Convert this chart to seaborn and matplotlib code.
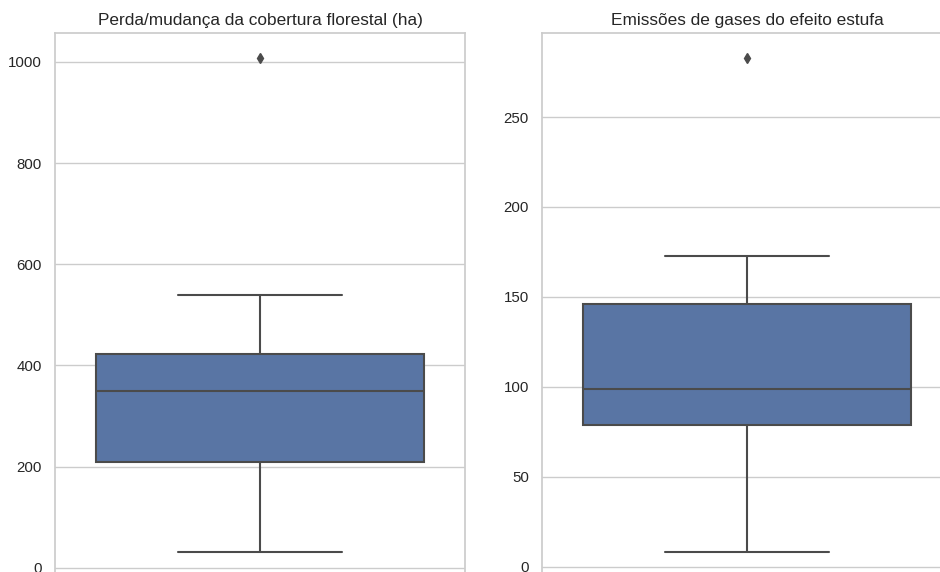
import matplotlib
matplotlib.use("Agg")
import matplotlib.pyplot as plt
import seaborn as sns
import numpy as np

# Data (values chosen to reproduce the displayed quartiles, whiskers and outliers)
perda_cobertura = [31, 150, 210, 300, 349, 400, 422, 540, 1008]
emissoes_gee = [8, 60, 79, 90, 99, 120, 146, 173, 283]

titulos = ["Perda/mudança da cobertura florestal (ha)", "Emissões de gases do efeito estufa"]

sns.set_theme(style="whitegrid")
plt.rcParams["font.family"] = ["Liberation Sans", "DejaVu Sans"]

W, H = 940, 572
fig = plt.figure(figsize=(W / 100, H / 100), dpi=100)
ax1 = fig.add_axes([55 / W, (H - 577) / H, 410 / W, 544 / H])
ax2 = fig.add_axes([542 / W, (H - 577) / H, 410 / W, 544 / H])

line_c = "#4b4b4b"
flier = dict(marker="d", markerfacecolor=line_c, markeredgecolor=line_c, markersize=5)

for ax, dados, titulo in zip([ax1, ax2], [perda_cobertura, emissoes_gee], titulos):
    sns.boxplot(y=dados, ax=ax, color="#4c72b0", saturation=0.75, linecolor=line_c,
                linewidth=1.5, flierprops=flier, width=0.8)
    ax.set_title(titulo, fontsize=12.4, color="#262626")
    ax.tick_params(axis="y", labelsize=10.8, colors="#262626")
    ax.set_ylabel("")
    for s in ax.spines.values():
        s.set_color("#cccccc")

ax1.set_yticks([0, 200, 400, 600, 800, 1000])
ax2.set_yticks([0, 50, 100, 150, 200, 250])

fig.savefig("out.png", dpi=100)
